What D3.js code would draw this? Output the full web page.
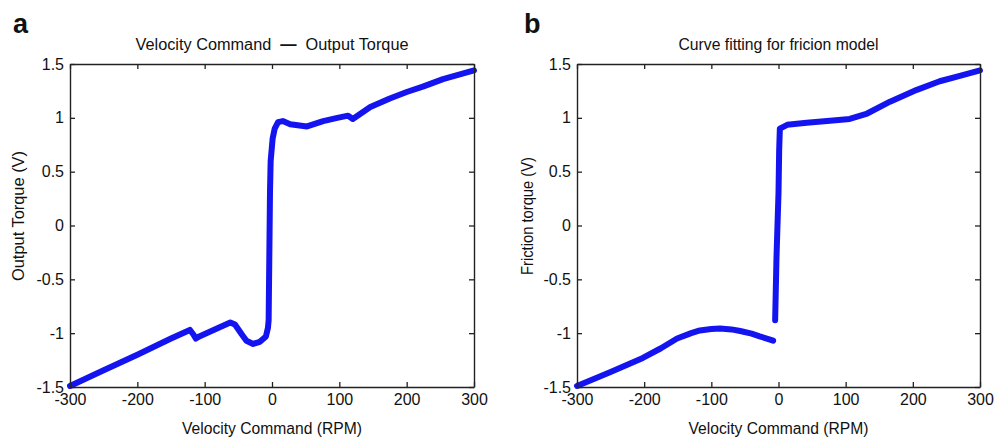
<!DOCTYPE html>
<html>
<head>
<meta charset="utf-8">
<script src="https://cdn.jsdelivr.net/npm/d3@7"></script>
<style>
	body { margin: 0; background: #fff; }
	text { font-family: Arial, "Liberation Sans", sans-serif; fill: #111; }
</style>
</head>
<body>
<svg id="chart"></svg>
<script>
// panel a: measured velocity command vs output torque
const velA = [-300, -250, -200, -150, -122, -117, -113, -108, -90, -62, -55, -45, -38, -28, -18, -9, -6,
	-5, -4, -3, -2, 1, 4, 9, 16, 27, 52, 76, 97, 113, 120, 146, 175, 200, 224, 254, 300];
const torqueA = [-1.49, -1.345, -1.2, -1.05, -0.97, -1.01, -1.05, -1.03, -0.98, -0.9, -0.92, -1.01, -1.07, -1.1, -1.08, -1.03, -0.95,
	-0.88, -0.3, 0.3, 0.6, 0.81, 0.9, 0.96, 0.97, 0.94, 0.92, 0.97, 1.0, 1.02, 0.99, 1.1, 1.18, 1.24, 1.29, 1.36, 1.44];

// panel b: fitted friction model, negative and positive branches
const velBNeg = [-300, -250, -202, -175, -151, -130, -117, -100, -87, -70, -57, -40, -28, -15, -8];
const fricBNeg = [-1.49, -1.36, -1.23, -1.14, -1.05, -1.0, -0.975, -0.962, -0.957, -0.965, -0.98, -1.005, -1.03, -1.055, -1.07];
const velBPos = [-5, -3, 0, 1, 2, 13, 42, 81, 106, 132, 166, 206, 240, 270, 300];
const fricBPos = [-0.88, -0.3, 0.3, 0.7, 0.9, 0.935, 0.955, 0.975, 0.99, 1.04, 1.15, 1.26, 1.34, 1.39, 1.44];

const xTicks = [-300, -200, -100, 0, 100, 200, 300];
const yTicks = [-1.5, -1, -0.5, 0, 0.5, 1, 1.5];

const W = 1003;
const H = 438;
const blue = '#1414f0';

const svg = d3.select('#chart').attr('width', W)
	.attr('height', H);

const panels = [
	{
		letter: 'a', left: 70, right: 474,
		title: ['Velocity Command\u00a0\u00a0', '\u2014', '\u00a0\u00a0Output Torque'], titleLen: 273,
		ylabel: 'Output Torque (V)', ylabelX: 24, ylabelLen: 130, letterX: 13,
		series: [[velA, torqueA]],
	},
	{
		letter: 'b', left: 577, right: 980,
		title: ['Curve fitting for fricion model'], titleLen: 200,
		ylabel: 'Friction torque (V)', ylabelX: 533, ylabelLen: 118, letterX: 524,
		series: [[velBNeg, fricBNeg], [velBPos, fricBPos]],
	},
];

const plotTop = 64;
const plotBottom = 387;

panels.forEach((p) => {
	const x = d3.scaleLinear().domain([-300, 300])
		.range([p.left, p.right]);
	const y = d3.scaleLinear().domain([-1.5, 1.5])
		.range([plotBottom, plotTop]);
	const g = svg.append('g');

	const line = d3.line()
		.x((d) => x(d[0]))
		.y((d) => y(d[1]));

	p.series.forEach(([xs, ys]) => {
		g.append('path')
			.datum(xs.map((v, i) => [v, ys[i]]))
			.attr('d', line)
			.attr('fill', 'none')
			.attr('stroke', blue)
			.attr('stroke-width', 6)
			.attr('stroke-linejoin', 'round')
			.attr('stroke-linecap', 'round');
	});

	const style = (sel) => {
		sel.select('.domain').attr('stroke', '#222')
			.attr('stroke-width', 1.4);
		sel.selectAll('.tick line').attr('stroke', '#222')
			.attr('stroke-width', 1.3);
		sel.selectAll('.tick text').style('font-size', '16px')
			.attr('fill', '#111');
	};

	g.append('g').attr('transform', `translate(0,${ plotBottom })`)
		.call(d3.axisBottom(x).tickValues(xTicks)
			.tickFormat((d) => String(d))
			.tickSizeInner(-5)
			.tickSizeOuter(0)
			.tickPadding(7))
		.call(style);

	g.append('g').attr('transform', `translate(0,${ plotTop })`)
		.call(d3.axisTop(x).tickValues(xTicks)
			.tickFormat('')
			.tickSizeInner(-5)
			.tickSizeOuter(0))
		.call(style);

	g.append('g').attr('transform', `translate(${ p.left },0)`)
		.call(d3.axisLeft(y).tickValues(yTicks)
			.tickFormat((d) => String(d))
			.tickSizeInner(-5)
			.tickSizeOuter(0)
			.tickPadding(6))
		.call(style);

	g.append('g').attr('transform', `translate(${ p.right },0)`)
		.call(d3.axisRight(y).tickValues(yTicks)
			.tickFormat('')
			.tickSizeInner(-5)
			.tickSizeOuter(0))
		.call(style);

	const cx = (p.left + p.right) / 2;

	svg.append('text')
		.attr('x', p.letterX)
		.attr('y', 33)
		.style('font-size', '27px')
		.style('font-weight', 'bold')
		.text(p.letter);

	const title = svg.append('text')
		.attr('x', cx)
		.attr('y', 50)
		.attr('text-anchor', 'middle')
		.attr('textLength', p.titleLen)
		.attr('lengthAdjust', 'spacingAndGlyphs')
		.style('font-size', '16px');

	title.selectAll('tspan')
		.data(p.title)
		.join('tspan')
		.style('font-weight', (d) => (d === '\u2014' ? 'bold' : 'normal'))
		.text((d) => d);

	svg.append('text')
		.attr('x', cx)
		.attr('y', 434)
		.attr('text-anchor', 'middle')
		.attr('textLength', 180)
		.attr('lengthAdjust', 'spacingAndGlyphs')
		.style('font-size', '16px')
		.text('Velocity Command (RPM)');

	svg.append('text')
		.attr('transform', `translate(${ p.ylabelX },216) rotate(-90)`)
		.attr('text-anchor', 'middle')
		.attr('textLength', p.ylabelLen)
		.attr('lengthAdjust', 'spacingAndGlyphs')
		.style('font-size', '16px')
		.text(p.ylabel);
});
</script>
</body>
</html>
